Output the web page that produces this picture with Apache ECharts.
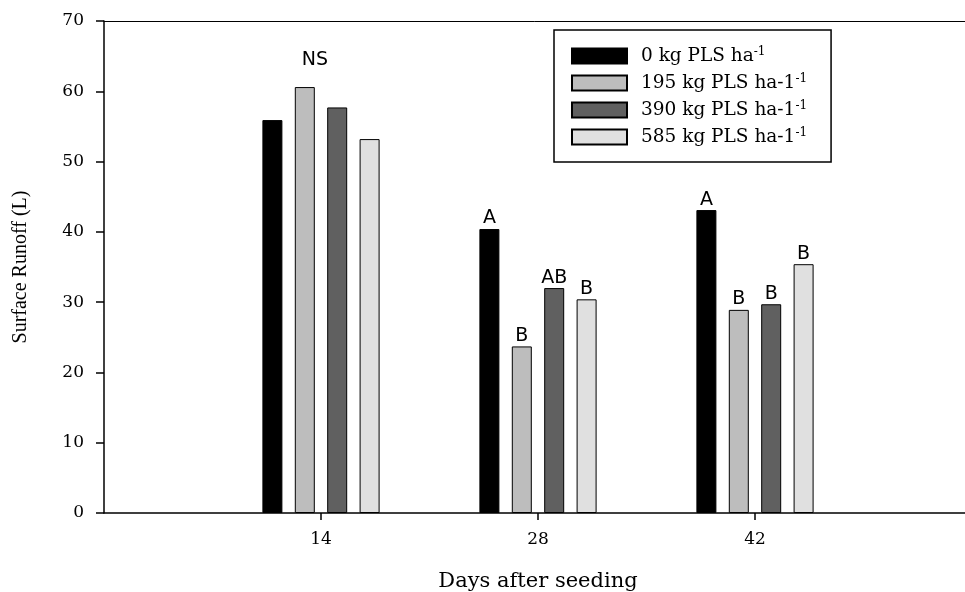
<!DOCTYPE html>
<html>
<head>
<meta charset="utf-8">
<script src="https://cdn.jsdelivr.net/npm/echarts@6/dist/echarts.min.js"></script>
<style>
  html, body { margin: 0; padding: 0; background: #fff; overflow: hidden; }
  #chart { width: 965px; height: 592px; }
</style>
</head>
<body>
<div id="chart"></div>
<script>
// --- data ---
const days = ['0', '14', '28', '42', '56'];
const seriesNames = ['0 kg', '195 kg', '390 kg', '585 kg'];
const kg0 = ['-', 55.9, 40.4, 43.1, '-'];
const kg195 = ['-', 60.6, 23.7, 28.9, '-'];
const kg390 = ['-', 57.7, 32.0, 29.7, '-'];
const kg585 = ['-', 53.2, 30.4, 35.4, '-'];
const letters0 = ['', '', 'A', 'A', ''];
const letters195 = ['', '', 'B', 'B', ''];
const letters390 = ['', '', 'AB', 'B', ''];
const letters585 = ['', '', 'B', 'B', ''];
const yTicks = [0, 10, 20, 30, 40, 50, 60, 70];

const COLORS = ['#000000', '#bdbdbd', '#606060', '#e0e0e0'];
const SERIF = '"DejaVu Serif", serif';
const SANS = '"DejaVu Sans", sans-serif';

const legendText = {
  '0 kg': '{t|0 kg PLS ha}{s|-1}',
  '195 kg': '{t|195 kg PLS ha-1}{s|-1}',
  '390 kg': '{t|390 kg PLS ha-1}{s|-1}',
  '585 kg': '{t|585 kg PLS ha-1}{s|-1}'
};

const values = [kg0, kg195, kg390, kg585];
const letters = [letters0, letters195, letters390, letters585];

const chart = echarts.init(document.getElementById('chart'));

const option = {
  backgroundColor: '#fff',
  animation: false,
  grid: { left: 104, top: 21, right: -7, bottom: 79, outerBoundsMode: 'none', containLabel: false },
  legend: {
    orient: 'vertical',
    left: 554,
    top: 30,
    padding: [16, 24, 15, 17],
    itemGap: 7,
    itemWidth: 55,
    itemHeight: 15,
    icon: 'rect',
    borderColor: '#000',
    borderWidth: 1.5,
    data: seriesNames,
    formatter: name => legendText[name],
    textStyle: {
      padding: [0, 0, 0, 9],
      rich: {
        t: { fontFamily: SERIF, fontSize: 18.5, color: '#000', lineHeight: 20, verticalAlign: 'bottom' },
        s: { fontFamily: SERIF, fontSize: 12, color: '#000', verticalAlign: 'top', lineHeight: 12 }
      }
    }
  },
  xAxis: [{
    type: 'category',
    data: days,
    boundaryGap: false,
    name: 'Days after seeding',
    nameLocation: 'middle',
    nameGap: 58,
    nameTextStyle: { fontFamily: SERIF, fontSize: 21, color: '#000' },
    axisLine: { lineStyle: { color: '#000', width: 1.5 } },
    axisTick: {
      length: 7,
      interval: (i) => i > 0 && i < days.length - 1,
      lineStyle: { color: '#000', width: 1.5 }
    },
    axisLabel: {
      interval: (i) => i > 0 && i < days.length - 1,
      margin: 18,
      fontFamily: SERIF,
      fontSize: 17,
      color: '#000'
    },
    splitLine: { show: false }
  }, {
    // top frame line
    type: 'category',
    data: days,
    boundaryGap: false,
    position: 'top',
    axisLine: { lineStyle: { color: '#000', width: 1 } },
    axisTick: { show: false },
    axisLabel: { show: false },
    splitLine: { show: false }
  }],
  yAxis: {
    type: 'value',
    min: yTicks[0],
    max: yTicks[yTicks.length - 1],
    interval: 10,
    name: 'Surface Runoff (L)',
    nameLocation: 'middle',
    nameGap: 73,
    nameTextStyle: { fontFamily: '"Liberation Serif", serif', fontSize: 20, color: '#000' },
    axisLine: { show: true, lineStyle: { color: '#000', width: 1.5 } },
    axisTick: { show: true, length: 8, lineStyle: { color: '#000', width: 1.5 } },
    axisLabel: { margin: 20, fontFamily: SERIF, fontSize: 17, color: '#000' },
    splitLine: { show: false }
  },
  series: seriesNames.map((name, k) => ({
    name: name,
    type: 'bar',
    xAxisIndex: 0,
    data: values[k],
    barWidth: 20,
    barGap: '62%',
    itemStyle: { color: COLORS[k], borderColor: '#000', borderWidth: 1 },
    label: {
      show: true,
      position: 'top',
      distance: 1,
      fontFamily: SANS,
      fontSize: 19,
      color: '#000',
      formatter: p => letters[k][p.dataIndex]
    },
    markPoint: k === 1 ? {
      symbol: 'rect',
      symbolSize: 1,
      itemStyle: { color: 'rgba(0,0,0,0)' },
      label: {
        show: true,
        position: 'inside',
        offset: [10, 0],
        fontFamily: SANS,
        fontSize: 19,
        color: '#000',
        formatter: 'NS'
      },
      data: [{ coord: ['14', 64.4] }]
    } : undefined
  }))
};

chart.setOption(option);
</script>
</body>
</html>
